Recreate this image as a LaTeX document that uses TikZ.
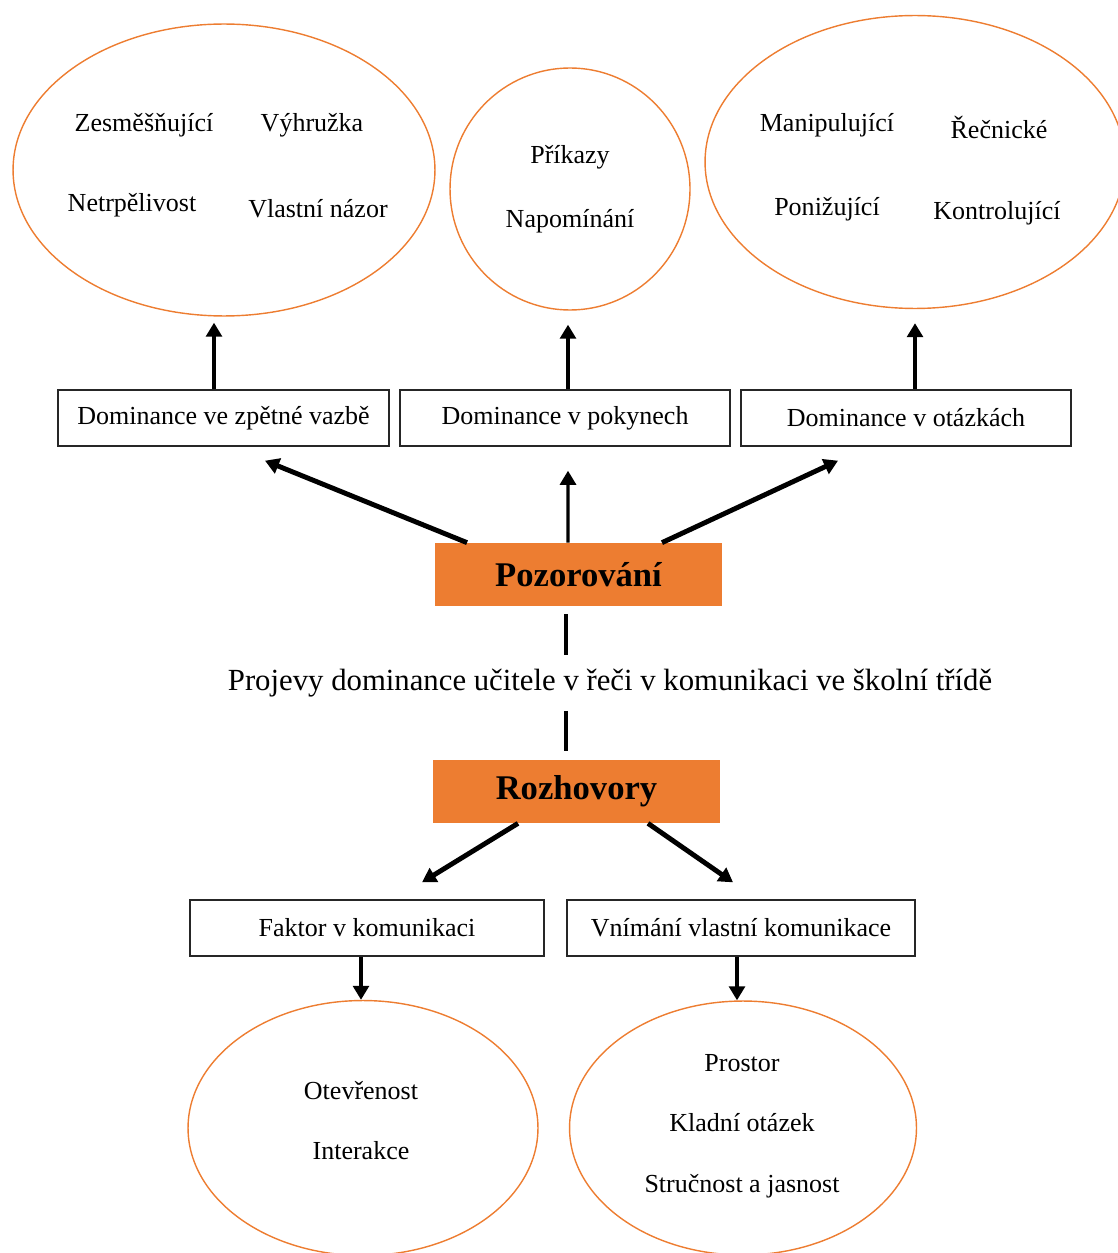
\documentclass[tikz,border=0pt]{standalone}
\usepackage{fontspec}
\setmainfont{Liberation Serif}
\usepackage{tikz}
\usetikzlibrary{positioning}
\usetikzlibrary{shapes.geometric}
\usetikzlibrary{arrows.meta}
\definecolor{oranzova}{HTML}{ED7D31}
\tikzset{
	kat/.style={draw=black!85,line width=0.8pt,minimum height=1.12cm,inner sep=0pt,font=\fontsize{14.8}{17}\selectfont},
	hlavni/.style={fill=oranzova,minimum width=5.74cm,minimum height=1.26cm,inner sep=0pt,font=\fontsize{19.7}{22}\selectfont\bfseries},
	oval/.style={ellipse,draw=oranzova,line width=0.8pt,inner sep=0pt},
	pojem/.style={font=\fontsize{14.8}{17}\selectfont,inner sep=1pt},
	sipka/.style={line width=2.3pt,-{Triangle[length=8pt,width=9pt]}},
	sikma/.style={sipka,line width=2.8pt},
	cara/.style={line width=2.3pt}
}
\begin{document}
\begin{tikzpicture}[x=0.02cm,y=-0.02cm]
	\useasboundingbox (0,0) rectangle (1117,1253);
	\node[oval,minimum width=8.44cm,minimum height=5.84cm] (E1) at (224,170) {};
	\node[oval,minimum width=4.8cm,minimum height=4.84cm] (E2) at (570,189) {};
	\node[oval,minimum width=8.4cm,minimum height=5.86cm] (E3) at (915,162) {};
	\node[pojem] (E1a) at (144,125) {Zesměšňující};
	\node[pojem] (E1b) at (312,125) {Výhružka};
	\node[pojem] (E1c) at (132,205) {Netrpělivost};
	\node[pojem] (E1d) at (318,209) {Vlastní názor};
	\node[pojem] (E2a) at (570,157) {Příkazy};
	\node[pojem] (E2b) at (570,221) {Napomínání};
	\node[pojem] (E3a) at (827,125) {Manipulující};
	\node[pojem] (E3b) at (999,127) {Řečnické};
	\node[pojem] (E3c) at (827,209) {Ponižující};
	\node[pojem] (E3d) at (997,213) {Kontrolující};
	
	\node[kat,minimum width=6.62cm] (D1) at (223.5,418) {Dominance ve zpětné vazbě};
	\node[kat,minimum width=6.6cm] (D2) at (565,418) {Dominance v pokynech};
	\node[kat,minimum width=6.6cm] (D3) at (906,418) {Dominance v otázkách};
	\draw[sipka,shorten >=0.12cm] ([xshift=-0.19cm]D1.north) -- ([xshift=-0.19cm]D1.north |- E1.south);
	\draw[sipka,shorten >=0.28cm] ([xshift=0.06cm]D2.north) -- ([xshift=0.06cm]D2.north |- E2.south);
	\draw[sipka,shorten >=0.28cm] (D3.north -| E3.south) -- (E3.south);
	
	\node[hlavni] (P) at (578.5,574.5) {Pozorování};
	\draw[sikma] ([xshift=-2.23cm]P.north) -- ([xshift=0.83cm,yshift=-0.28cm]D1.south);
	\draw[sipka,line width=1.9pt] ([xshift=-0.21cm]P.north) -- ([xshift=0.06cm,yshift=-0.48cm]D2.south);
	\draw[sikma] ([xshift=1.67cm]P.north) -- ([xshift=-1.36cm,yshift=-0.28cm]D3.south);
	
	\node[minimum height=1.1cm,inner sep=0pt,font=\fontsize{17.5}{20}\selectfont] (M) at (610,683) {Projevy dominance učitele v řeči v komunikaci ve školní třídě};
	\node[hlavni] (R) at (576.5,791.5) {Rozhovory};
	\draw[cara,shorten <=0.16cm] ([xshift=-0.25cm]P.south) -- ([xshift=-0.25cm]P.south |- M.north);
	\draw[cara,shorten >=0.18cm] ([xshift=-0.25cm]P.south |- M.south) -- ([xshift=-0.25cm]P.south |- R.north);
	
	\node[kat,minimum width=7.08cm] (F1) at (367,928) {Faktor v komunikaci};
	\node[kat,minimum width=6.96cm] (F2) at (741,928) {Vnímání vlastní komunikace};
	\draw[sikma] ([xshift=-1.17cm]R.south) -- ([xshift=1.1cm,yshift=0.34cm]F1.north);
	\draw[sikma] ([xshift=1.43cm]R.south) -- ([xshift=-0.16cm,yshift=0.34cm]F2.north);
	
	\node[oval,minimum width=7cm,minimum height=5.1cm] (C1) at (363,1128) {};
	\node[oval,minimum width=6.94cm,minimum height=5.08cm] (C2) at (743,1128) {};
	\draw[sipka] ([xshift=-0.12cm]F1.south) -- ([xshift=-0.12cm]F1.south |- C1.north);
	\draw[sipka] ([xshift=-0.08cm]F2.south) -- ([xshift=-0.08cm]F2.south |- C2.north);
	\node[pojem] (C1a) at (361,1091) {Otevřenost};
	\node[pojem] (C1b) at (361,1151) {Interakce};
	\node[pojem] (C2a) at (742,1063) {Prostor};
	\node[pojem] (C2b) at (742,1123) {Kladní otázek};
	\node[pojem] (C2c) at (742,1186) {Stručnost a jasnost};
\end{tikzpicture}
\end{document}
